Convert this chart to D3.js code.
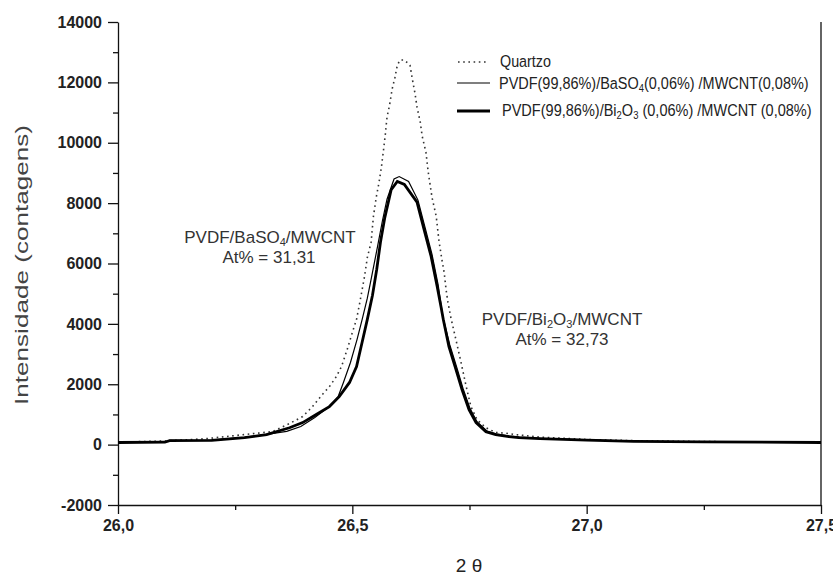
<!DOCTYPE html>
<html>
<head>
<meta charset="utf-8">
<style>
    body { margin: 0; background: #fff; }
    text { font-family: "Liberation Sans", Arial, sans-serif; }
    .tick text { font-weight: bold; fill: #222; }
</style>
<script src="https://cdn.jsdelivr.net/npm/d3@7"></script>
</head>
<body>
<script>
// Quartzo (dotted)
var quartzTheta = [26.00, 26.10, 26.19, 26.25, 26.31, 26.33, 26.366, 26.394, 26.415, 26.436, 26.451, 26.466, 26.477, 26.489, 26.500, 26.509, 26.516, 26.526, 26.532, 26.540, 26.545, 26.551, 26.557, 26.562, 26.566, 26.570, 26.574, 26.579, 26.585, 26.591, 26.596, 26.602, 26.611, 26.623, 26.628, 26.634, 26.638, 26.645, 26.649, 26.657, 26.662, 26.670, 26.679, 26.685, 26.691, 26.696, 26.700, 26.704, 26.711, 26.721, 26.732, 26.743, 26.753, 26.766, 26.785, 26.806, 26.828, 26.849, 26.90, 27.00, 27.10, 27.25, 27.50];
var quartzVal = [80, 120, 200, 300, 400, 430, 700, 930, 1260, 1660, 1920, 2255, 2590, 3150, 3715, 4150, 4710, 5570, 6200, 6700, 7560, 8190, 8690, 9190, 9690, 10220, 10850, 11210, 11780, 12170, 12570, 12740, 12740, 12570, 12110, 11610, 11180, 10680, 10220, 9690, 9020, 8190, 7560, 6730, 6140, 5700, 5140, 4710, 4150, 3480, 2720, 1920, 1260, 830, 560, 400, 380, 330, 250, 170, 130, 100, 80];

// PVDF/BaSO4/MWCNT (thin)
var basoTheta = [26.00, 26.10, 26.11, 26.20, 26.27, 26.317, 26.36, 26.39, 26.42, 26.45, 26.47, 26.481, 26.496, 26.510, 26.521, 26.532, 26.541, 26.553, 26.564, 26.574, 26.589, 26.600, 26.620, 26.640, 26.655, 26.670, 26.683, 26.693, 26.708, 26.723, 26.736, 26.751, 26.766, 26.787, 26.808, 26.836, 26.857, 26.90, 27.00, 27.10, 27.25, 27.50];
var basoVal = [80, 90, 140, 150, 240, 340, 440, 600, 900, 1250, 1600, 2060, 2720, 3480, 4150, 4850, 5550, 6500, 7400, 8130, 8800, 8880, 8720, 8100, 7200, 6300, 5300, 4250, 3300, 2550, 1870, 1200, 760, 450, 350, 285, 250, 210, 160, 120, 95, 80];

// PVDF/Bi2O3/MWCNT (thick)
var biTheta = [26.00, 26.10, 26.11, 26.20, 26.27, 26.317, 26.366, 26.394, 26.423, 26.451, 26.472, 26.494, 26.509, 26.521, 26.532, 26.543, 26.552, 26.560, 26.569, 26.583, 26.596, 26.611, 26.638, 26.653, 26.668, 26.681, 26.689, 26.694, 26.706, 26.721, 26.734, 26.749, 26.764, 26.785, 26.806, 26.834, 26.855, 26.90, 27.00, 27.10, 27.25, 27.50];
var biVal = [70, 80, 130, 140, 230, 330, 560, 730, 1000, 1260, 1590, 2060, 2590, 3400, 4150, 4950, 5800, 6700, 7500, 8450, 8720, 8620, 8030, 7130, 6240, 5240, 4580, 4150, 3250, 2490, 1820, 1160, 730, 430, 330, 265, 230, 200, 150, 110, 90, 70];

var yTicks = [-2000, 0, 2000, 4000, 6000, 8000, 10000, 12000, 14000];
var xTicks = [26.0, 26.5, 27.0, 27.5];

var W = 833, H = 578;
var svg = d3.select("body").append("svg").attr("width", W).attr("height", H);

var x = d3.scaleLinear().domain([26, 27.5]).range([118, 821]);
var y = d3.scaleLinear().domain([-2000, 14000]).range([505, 22]);

// minor ticks
svg.append("g")
    .attr("transform", "translate(118,0)")
    .call(d3.axisLeft(y).tickValues(d3.range(-1000, 14000, 2000)).tickSize(5).tickFormat(""))
    .call(function (g) { g.select(".domain").remove(); });
svg.append("g")
    .attr("transform", "translate(0,505)")
    .call(d3.axisBottom(x).tickValues([26.25, 26.75, 27.25]).tickSize(5).tickFormat(""))
    .call(function (g) { g.select(".domain").remove(); });

// major axes
var yAxis = svg.append("g")
    .attr("transform", "translate(118,0)")
    .call(d3.axisLeft(y).tickValues(yTicks).tickSize(10).tickPadding(6).tickFormat(function (d) { return String(d); }).tickSizeOuter(0));
yAxis.selectAll(".tick text").attr("font-size", 16);

var xAxis = svg.append("g")
    .attr("transform", "translate(0,505)")
    .call(d3.axisBottom(x).tickValues(xTicks).tickSize(9).tickPadding(6).tickFormat(function (d) { return d.toFixed(1).replace(".", ","); }).tickSizeOuter(0));
xAxis.selectAll(".tick text").attr("font-size", 16);

svg.selectAll(".domain, .tick line").attr("stroke", "#111").attr("stroke-width", 1.3);

// right border
svg.append("line")
    .attr("x1", x(27.5)).attr("x2", x(27.5))
    .attr("y1", y(14000)).attr("y2", y(-2000))
    .attr("stroke", "#111").attr("stroke-width", 1.3);

// curves
function series(th, v) { return th.map(function (t, i) { return [t, v[i]]; }); }
var line = d3.line().x(function (d) { return x(d[0]); }).y(function (d) { return y(d[1]); });

svg.append("path").datum(series(quartzTheta, quartzVal)).attr("d", line)
    .attr("fill", "none").attr("stroke", "#333").attr("stroke-width", 1.6).attr("stroke-dasharray", "1.6 3.6");
svg.append("path").datum(series(basoTheta, basoVal)).attr("d", line)
    .attr("fill", "none").attr("stroke", "#000").attr("stroke-width", 1.2);
svg.append("path").datum(series(biTheta, biVal)).attr("d", line)
    .attr("fill", "none").attr("stroke", "#000").attr("stroke-width", 2.8);

// text helper with subscripts; optional target width squeezes the glyphs horizontally
function addText(parent, px, py, parts, o) {
    var g = parent.append("g");
    var t = g.append("text")
        .attr("font-size", o.size).attr("text-anchor", o.anchor || "start")
        .attr("fill", o.fill || "#333");
    var shift = 0;
    parts.forEach(function (p) {
        var s = p[1] ? 3 : 0;
        t.append("tspan").attr("dy", s - shift).attr("font-size", p[1] ? o.size * 0.65 : o.size).text(p[0]);
        shift = s;
    });
    var sx = o.len ? o.len / t.node().getComputedTextLength() : 1;
    g.attr("transform", "translate(" + px + "," + py + ")" + (o.rotate ? " rotate(-90)" : "") + " scale(" + sx + ",1)");
    return g;
}

// legend
var leg = svg.append("g");
leg.append("line").attr("x1", 458).attr("x2", 489).attr("y1", 62).attr("y2", 62)
    .attr("stroke", "#333").attr("stroke-width", 1.6).attr("stroke-dasharray", "1.6 3.6");
leg.append("line").attr("x1", 457).attr("x2", 490).attr("y1", 83).attr("y2", 83)
    .attr("stroke", "#000").attr("stroke-width", 1.2);
leg.append("line").attr("x1", 457).attr("x2", 490).attr("y1", 111).attr("y2", 111)
    .attr("stroke", "#000").attr("stroke-width", 2.8);
addText(leg, 500, 67, [["Quartzo", 0]], { size: 17, fill: "#222", len: 51 });
addText(leg, 499, 89, [["PVDF(99,86%)/BaSO", 0], ["4", 1], ["(0,06%) /MWCNT(0,08%)", 0]], { size: 17, fill: "#222", len: 310 });
addText(leg, 502, 116, [["PVDF(99,86%)/Bi", 0], ["2", 1], ["O", 0], ["3", 1], [" (0,06%) /MWCNT (0,08%)", 0]], { size: 17, fill: "#222", len: 310 });

// annotations
addText(svg, 270, 243, [["PVDF/BaSO", 0], ["4", 1], ["/MWCNT", 0]], { size: 17, anchor: "middle" });
addText(svg, 269, 263, [["At% = 31,31", 0]], { size: 17, anchor: "middle" });
addText(svg, 562, 325, [["PVDF/Bi", 0], ["2", 1], ["O", 0], ["3", 1], ["/MWCNT", 0]], { size: 17, anchor: "middle" });
addText(svg, 562, 345, [["At% = 32,73", 0]], { size: 17, anchor: "middle" });

// axis titles
addText(svg, 28, 265, [["Intensidade (contagens)", 0]], { size: 18, fill: "#444", len: 280, anchor: "middle", rotate: true });
addText(svg, 469, 572, [["2 θ", 0]], { size: 19, anchor: "middle", fill: "#222" });
</script>
</body>
</html>
